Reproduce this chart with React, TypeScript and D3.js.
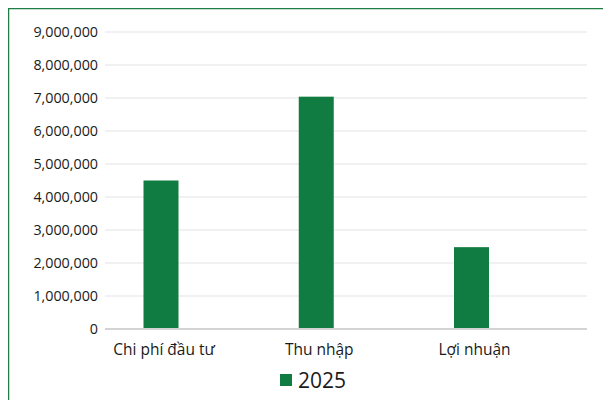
import React from "react";
import * as d3 from "d3";

const categories = ["Chi phí đầu tư", "Thu nhập", "Lợi nhuận"];
const values2025 = [4500000, 7040000, 2480000];
const yTicks = [0, 1000000, 2000000, 3000000, 4000000, 5000000, 6000000, 7000000, 8000000, 9000000];
const seriesName = "2025";

const W = 603;
const H = 392;
const OFF = 8; // page offset
const GREEN = "#107c41";
const FONT = "'Open Sans', 'Liberation Sans', sans-serif";

export default function App() {
  const y = d3.scaleLinear().domain([0, 9000000]).range([329 - OFF, 32 - OFF]);
  const step = 155.25;
  const c0 = 161 - OFF;
  const x = d3
    .scaleBand<string>()
    .domain(categories)
    .range([c0 - step / 2, c0 - step / 2 + step * 3])
    .paddingInner(0.7746)
    .paddingOuter(0.3873);
  const gx0 = 105 - OFF;
  const gx1 = 587 - OFF;
  const fmt = d3.format(",");

  return (
    <svg width={W} height={H} style={{ display: "block" }}>
      <rect x={0} y={0} width={W} height={H} fill="#fff" />
      {yTicks.slice(1).map((t) => (
        <line key={t} x1={gx0} x2={gx1} y1={y(t)} y2={y(t)} stroke="#e3e3e3" strokeWidth={1} />
      ))}
      {categories.map((c, i) => (
        <rect
          key={c}
          x={x(c)}
          y={y(values2025[i])}
          width={x.bandwidth()}
          height={y(0) - y(values2025[i])}
          fill={GREEN}
        />
      ))}
      <line x1={gx0} x2={gx1} y1={y(0)} y2={y(0)} stroke="#d4d4d4" strokeWidth={2} />
      {yTicks.map((t) => (
        <text
          key={t}
          x={98 - OFF}
          y={y(t) + 5}
          textAnchor="end"
          fontFamily={FONT}
          fontSize={14.3}
          fill="#1a1a1a"
        >
          {fmt(t)}
        </text>
      ))}
      {categories.map((c) => (
        <text
          key={c}
          x={(x(c) as number) + x.bandwidth() / 2 + 3}
          y={355 - OFF}
          textAnchor="middle"
          fontFamily={FONT}
          fontSize={15.5}
          fill="#1a1a1a"
        >
          {c}
        </text>
      ))}
      <rect x={280 - OFF} y={374 - OFF} width={12} height={12} fill={GREEN} />
      <text x={298 - OFF} y={388 - OFF} fontFamily={FONT} fontSize={21} fill="#1a1a1a">
        {seriesName}
      </text>
      <line x1={0} x2={W} y1={0.5} y2={0.5} stroke="#1e7e45" strokeWidth={1.5} />
      <line x1={0.5} x2={0.5} y1={0} y2={H} stroke="#1e7e45" strokeWidth={1.5} />
    </svg>
  );
}
